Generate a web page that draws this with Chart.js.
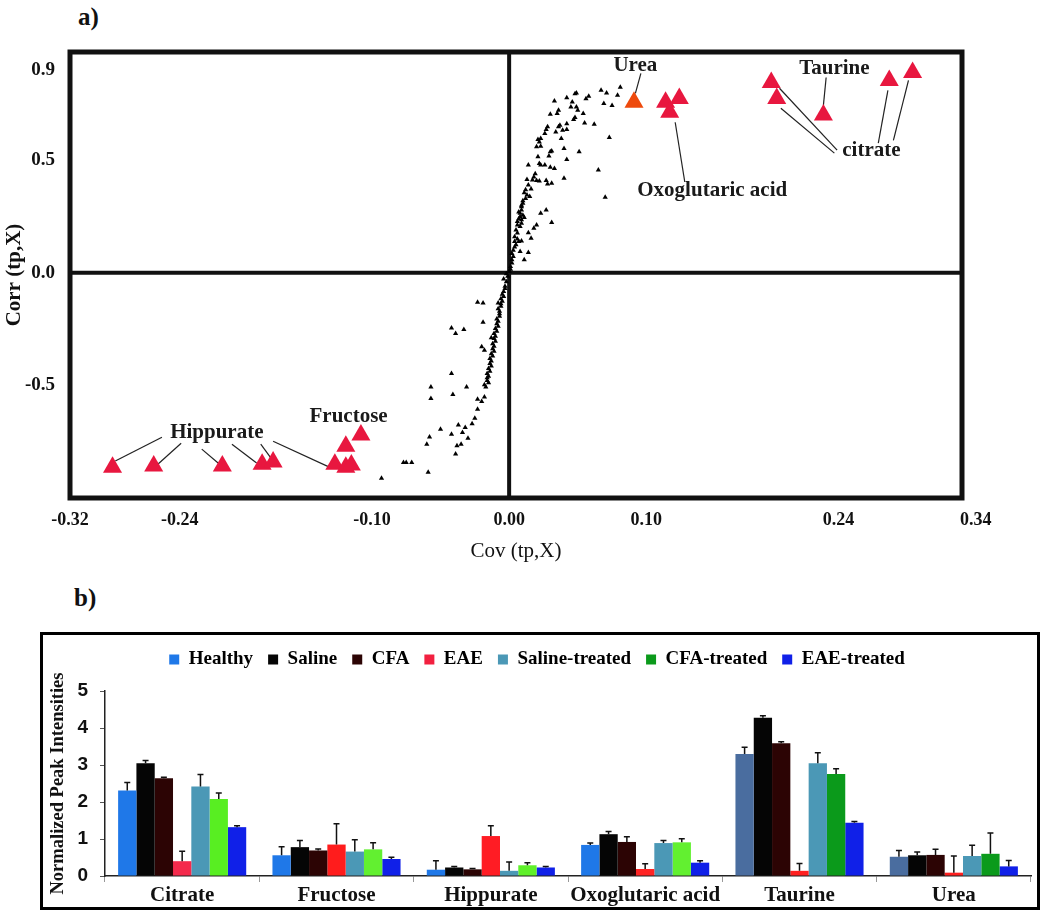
<!DOCTYPE html>
<html>
<head>
<meta charset="utf-8">
<title>S-plot and metabolite intensities</title>
<script src="https://cdn.jsdelivr.net/npm/chart.js@4.4.1/dist/chart.umd.min.js"></script>
<style>
body { margin: 0; background: #fff; width: 1050px; height: 920px; position: relative; overflow: hidden; }
.panel { position: absolute; font-family: 'Liberation Serif', serif; font-weight: bold; font-size: 25px; color: #111; }
#scatter { position: absolute; left: 0; top: 0; }
#barBox { position: absolute; left: 40px; top: 632px; width: 994px; height: 272px; border: 3px solid #000; }
#bars { display: block; }
</style>
</head>
<body>
<div class="panel" style="left:78px; top:3px">a)</div>
<div class="panel" style="left:74px; top:584px">b)</div>
<canvas id="scatter" width="1050" height="580"></canvas>
<div id="barBox"><canvas id="bars" width="994" height="272"></canvas></div>
<script>
document.addEventListener('DOMContentLoaded', init);

// ---------- panel a: S-plot ----------
const covTicks = [-0.32, -0.24, -0.10, 0.00, 0.10, 0.24, 0.34];
const corrTicks = [-0.5, 0.0, 0.5, 0.9];

// all other variables (small black triangles), [cov, corr]
const otherVars = [
    [0.081,0.824],[0.067,0.810],[0.071,0.798],[0.079,0.788],[0.049,0.798],[0.048,0.795],[0.042,0.777],[0.033,0.763],
    [0.058,0.783],[0.056,0.773],[0.069,0.751],[0.075,0.743],[0.046,0.758],[0.045,0.736],[0.049,0.736],[0.050,0.721],
    [0.036,0.721],[0.035,0.707],[0.030,0.704],[0.054,0.707],[0.048,0.689],[0.047,0.680],[0.042,0.662],[0.055,0.665],
    [0.062,0.659],[0.037,0.655],[0.036,0.648],[0.028,0.648],[0.027,0.636],[0.034,0.625],[0.039,0.633],[0.042,0.636],
    [0.026,0.618],[0.023,0.596],[0.021,0.591],[0.022,0.581],[0.038,0.596],[0.073,0.600],[0.020,0.559],[0.023,0.562],
    [0.031,0.541],[0.030,0.537],[0.040,0.552],[0.051,0.537],[0.021,0.515],[0.029,0.518],[0.042,0.503],[0.014,0.478],
    [0.022,0.485],[0.023,0.478],[0.026,0.478],[0.030,0.468],[0.033,0.463],[0.065,0.456],
    [0.013,0.414],[0.017,0.412],[0.020,0.409],[0.022,0.407],[0.027,0.409],[0.028,0.394],[0.031,0.397],[0.040,0.419],
    [0.070,0.335],[0.011,0.355],[0.013,0.345],[0.015,0.338],[0.010,0.308],[0.009,0.293],[0.009,0.279],[0.008,0.264],
    [0.008,0.249],[0.009,0.235],[0.006,0.227],[0.009,0.220],[0.008,0.205],[0.005,0.190],[0.006,0.176],[0.023,0.264],
    [0.027,0.279],[0.031,0.223],[0.020,0.212],[0.018,0.198],[0.014,0.178],[0.016,0.153],[0.004,0.139],[0.007,0.139],
    [0.009,0.141],[0.005,0.124],[0.004,0.114],[0.008,0.094],[0.014,0.090],[0.011,0.058],[0.003,0.072],[0.002,0.058],
    [0.002,0.043],[0.001,0.028],[0.010,0.320],[0.012,0.330],[0.009,0.300],[0.007,0.270],[0.010,0.255],[0.007,0.240],
    [0.011,0.245],[0.006,0.212],[0.004,0.160],[0.006,0.150],[0.003,0.100],[0.002,0.085],[0.001,0.015],[0.000,0.005],
    [0.012,0.368],[0.016,0.372],[0.014,0.390],[0.018,0.425],[0.019,0.440],
    [-0.004,-0.028],[-0.003,-0.060],[-0.004,-0.083],[-0.004,-0.105],[-0.005,-0.127],[-0.006,-0.149],[-0.007,-0.171],
    [-0.007,-0.193],[-0.008,-0.215],[-0.008,-0.237],[-0.009,-0.260],[-0.010,-0.282],[-0.010,-0.304],[-0.011,-0.326],
    [-0.011,-0.348],[-0.012,-0.370],[-0.013,-0.392],[-0.013,-0.414],[-0.014,-0.437],[-0.015,-0.459],
    [-0.002,-0.040],[-0.003,-0.070],[-0.005,-0.095],[-0.006,-0.115],[-0.006,-0.138],[-0.008,-0.160],[-0.007,-0.182],
    [-0.009,-0.205],[-0.009,-0.226],[-0.010,-0.248],[-0.011,-0.270],[-0.011,-0.292],[-0.012,-0.315],[-0.012,-0.337],
    [-0.013,-0.360],[-0.014,-0.381],[-0.014,-0.403],[-0.015,-0.425],[-0.016,-0.447],[-0.001,-0.015],[-0.002,-0.005],
    [-0.023,-0.131],[-0.019,-0.134],[-0.008,-0.134],[-0.019,-0.220],[-0.042,-0.245],[-0.039,-0.270],[-0.033,-0.252],
    [-0.013,-0.289],[-0.020,-0.329],[-0.018,-0.344],[-0.042,-0.447],
    [-0.016,-0.466],[-0.015,-0.488],[-0.017,-0.507],[-0.016,-0.478],[-0.018,-0.497],[-0.057,-0.507],[-0.057,-0.558],
    [-0.041,-0.540],[-0.031,-0.507],[-0.023,-0.562],[-0.020,-0.572],[-0.018,-0.552],[-0.023,-0.606],[-0.025,-0.646],
    [-0.027,-0.670],[-0.037,-0.676],[-0.032,-0.687],[-0.050,-0.695],[-0.042,-0.717],[-0.034,-0.709],[-0.058,-0.729],
    [-0.060,-0.761],[-0.030,-0.735],[-0.035,-0.761],[-0.038,-0.768],[-0.039,-0.805],[-0.077,-0.842],[-0.075,-0.842],
    [-0.071,-0.842],[-0.059,-0.886],[-0.093,-0.912]
];

// highlighted metabolites (large red triangles)
const markedVars = [
    [0.114,0.757],[0.124,0.774],[0.117,0.712],                 // oxoglutaric acid
    [0.191,0.845],[0.195,0.774],[0.277,0.854],[0.294,0.889],   // citrate
    [0.229,0.700],                                             // taurine
    [-0.289,-0.863],[-0.259,-0.858],[-0.209,-0.858],[-0.180,-0.850],
    [-0.172,-0.840],[-0.127,-0.850],[-0.119,-0.863],[-0.115,-0.854], // hippurate
    [-0.119,-0.770],[-0.108,-0.720]                            // fructose
];
const ureaVar = [[0.091,0.757]];

// annotations
const tagNames = ['Urea', 'Oxoglutaric acid', 'Taurine', 'citrate', 'Hippurate', 'Fructose'];
const tagCov = [0.092, 0.148, 0.237, 0.264, -0.213, -0.117];
const tagCorr = [0.920, 0.367, 0.907, 0.544, -0.708, -0.637];
const leaderLines = [
    [0.096,0.885,0.092,0.796],
    [0.121,0.668,0.128,0.403],
    [0.231,0.867,0.229,0.743],
    [0.239,0.544,0.197,0.819],
    [0.237,0.531,0.198,0.730],
    [0.269,0.575,0.276,0.810],
    [0.280,0.588,0.291,0.854],
    [-0.253,-0.730,-0.287,-0.836],
    [-0.239,-0.757,-0.256,-0.850],
    [-0.224,-0.783,-0.211,-0.850],
    [-0.202,-0.761,-0.184,-0.845],
    [-0.181,-0.761,-0.173,-0.827],
    [-0.172,-0.748,-0.131,-0.863]
];

// ---------- panel b: bar chart ----------
const metabolites = ['Citrate', 'Fructose', 'Hippurate', 'Oxoglutaric acid', 'Taurine', 'Urea'];
const groups = ['Healthy', 'Saline', 'CFA', 'EAE', 'Saline-treated', 'CFA-treated', 'EAE-treated'];

const healthyMean = [2.31, 0.56, 0.17, 0.84, 3.30, 0.52];
const salineMean = [3.05, 0.78, 0.23, 1.13, 4.28, 0.56];
const cfaMean = [2.64, 0.69, 0.18, 0.92, 3.59, 0.57];
const eaeMean = [0.40, 0.85, 1.08, 0.19, 0.14, 0.09];
const salineTrMean = [2.42, 0.66, 0.14, 0.89, 3.05, 0.54];
const cfaTrMean = [2.08, 0.72, 0.29, 0.91, 2.76, 0.60];
const eaeTrMean = [1.32, 0.46, 0.23, 0.36, 1.44, 0.26];

const healthyErr = [0.22, 0.23, 0.24, 0.05, 0.18, 0.17];
const salineErr = [0.07, 0.18, 0.03, 0.07, 0.05, 0.09];
const cfaErr = [0.03, 0.04, 0.02, 0.14, 0.04, 0.15];
const eaeErr = [0.27, 0.56, 0.28, 0.14, 0.20, 0.45];
const salineTrErr = [0.32, 0.32, 0.24, 0.07, 0.28, 0.29];
const cfaTrErr = [0.16, 0.18, 0.07, 0.10, 0.14, 0.56];
const eaeTrErr = [0.04, 0.05, 0.03, 0.05, 0.03, 0.16];

const barColours = [
    ['#1f78e8', '#1f78e8', '#1f78e8', '#1f78e8', '#4a6d9f', '#4a6d9f'],
    '#050505',
    '#2c0404',
    ['#f42a4c', '#ff1c1c', '#ff1c24', '#ff2424', '#ff2020', '#ff2020'],
    '#4b98b6',
    ['#58ee22', '#62f030', '#5ff02a', '#62f030', '#0b9a1b', '#0b9a1b'],
    '#1020e8'
];
const legendColours = ['#1f78e8', '#050505', '#2c0404', '#f22040', '#4b98b6', '#0b9a1b', '#1020e8'];

const serif = 'Liberation Serif';
const sans = 'Liberation Sans';

const sPlotDecor = {
    id: 'sPlotDecor',
    beforeDatasetsDraw(chart)
    {
        const {ctx, chartArea: a, scales: {x, y}} = chart;
        ctx.save();
        // leader lines
        ctx.strokeStyle = '#222';
        ctx.lineWidth = 1.2;
        leaderLines.forEach(l => {
            ctx.beginPath();
            ctx.moveTo(x.getPixelForValue(l[0]), y.getPixelForValue(l[1]));
            ctx.lineTo(x.getPixelForValue(l[2]), y.getPixelForValue(l[3]));
            ctx.stroke();
        });
        // zero lines and frame
        ctx.strokeStyle = '#111';
        ctx.lineWidth = 4;
        const x0 = x.getPixelForValue(0), y0 = y.getPixelForValue(0);
        ctx.beginPath();
        ctx.moveTo(x0, a.top);
        ctx.lineTo(x0, a.bottom);
        ctx.moveTo(a.left, y0);
        ctx.lineTo(a.right, y0);
        ctx.stroke();
        ctx.lineWidth = 5;
        ctx.strokeRect(a.left, a.top, a.right - a.left, a.bottom - a.top);
        ctx.restore();
    },
    afterDatasetsDraw(chart)
    {
        const {ctx, scales: {x, y}} = chart;
        ctx.save();
        ctx.fillStyle = '#1a1a1a';
        ctx.font = 'bold 21px "' + serif + '"';
        ctx.textAlign = 'center';
        ctx.textBaseline = 'middle';
        tagNames.forEach((name, i) => {
            ctx.fillText(name, x.getPixelForValue(tagCov[i]), y.getPixelForValue(tagCorr[i]));
        });
        ctx.restore();
    }
};

const errorBars = {
    id: 'errorBars',
    afterDatasetsDraw(chart)
    {
        const {ctx, scales: {y}} = chart;
        ctx.save();
        ctx.strokeStyle = '#111';
        ctx.lineWidth = 1.5;
        chart.data.datasets.forEach((ds, i) => {
            chart.getDatasetMeta(i).data.forEach((bar, j) => {
                const top = y.getPixelForValue(ds.data[j] + ds.errors[j]);
                ctx.beginPath();
                ctx.moveTo(bar.x, bar.y);
                ctx.lineTo(bar.x, top);
                ctx.moveTo(bar.x - 3, top);
                ctx.lineTo(bar.x + 3, top);
                ctx.stroke();
            });
        });
        ctx.restore();
    }
};

const legendGap = {
    id: 'legendGap',
    beforeInit(chart)
    {
        const fit = chart.legend.fit;
        chart.legend.fit = function () {
            fit.call(this);
            this.height += 12;
        };
    }
};

function toPoints(list)
{
    return list.map(p => ({x: p[0], y: p[1]}));
}

function init()
{
    createSPlot();
    createBars();
}

function createSPlot()
{
    new Chart(document.getElementById('scatter').getContext('2d'),
    {
        type: 'scatter',
        data: {
            datasets: [
                {
                    label: 'Variables',
                    data: toPoints(otherVars),
                    pointStyle: 'triangle',
                    radius: 3,
                    backgroundColor: '#000',
                    borderWidth: 0
                },
                {
                    label: 'Metabolites',
                    data: toPoints(markedVars),
                    pointStyle: 'triangle',
                    radius: 11,
                    backgroundColor: '#e8173f',
                    borderWidth: 0
                },
                {
                    label: 'Urea',
                    data: toPoints(ureaVar),
                    pointStyle: 'triangle',
                    radius: 11,
                    backgroundColor: '#ee4a0c',
                    borderWidth: 0
                }
            ]
        },
        options: {
            responsive: false,
            animation: false,
            layout: {padding: {left: 0, top: 52, right: 88, bottom: 0}},
            plugins: {
                legend: {display: false},
                tooltip: {enabled: false}
            },
            scales: {
                x: {
                    type: 'linear',
                    min: -0.32,
                    max: 0.33,
                    afterBuildTicks: s => { s.ticks = covTicks.map(v => ({value: v})); },
                    afterFit: s => { s.height = 82; },
                    grid: {display: false},
                    border: {display: false},
                    ticks: {
                        callback: v => v.toFixed(2),
                        font: {family: serif, weight: 'bold', size: 18},
                        color: '#111',
                        padding: 4,
                        maxRotation: 0,
                        autoSkip: false
                    },
                    title: {
                        display: true,
                        text: 'Cov (tp,X)',
                        font: {family: serif, size: 21},
                        color: '#111',
                        padding: {top: 0, bottom: 16}
                    }
                },
                y: {
                    type: 'linear',
                    min: -1.0,
                    max: 0.98,
                    afterBuildTicks: s => { s.ticks = corrTicks.map(v => ({value: v})); },
                    afterFit: s => { s.width = 70; },
                    grid: {display: false},
                    border: {display: false},
                    ticks: {
                        callback: v => v.toFixed(1),
                        font: {family: serif, weight: 'bold', size: 19},
                        color: '#111',
                        padding: 7
                    },
                    title: {
                        display: true,
                        text: 'Corr (tp,X)',
                        font: {family: serif, weight: 'bold', size: 21},
                        color: '#111',
                        padding: {top: 2, bottom: 0}
                    }
                }
            }
        },
        plugins: [sPlotDecor]
    });
}

function createBars()
{
    const means = [healthyMean, salineMean, cfaMean, eaeMean, salineTrMean, cfaTrMean, eaeTrMean];
    const errs = [healthyErr, salineErr, cfaErr, eaeErr, salineTrErr, cfaTrErr, eaeTrErr];

    new Chart(document.getElementById('bars').getContext('2d'),
    {
        type: 'bar',
        data: {
            labels: metabolites,
            datasets: groups.map((g, i) => ({
                label: g,
                data: means[i],
                errors: errs[i],
                backgroundColor: barColours[i],
                borderWidth: 0,
                categoryPercentage: 0.83,
                barPercentage: 1.0
            }))
        },
        options: {
            responsive: false,
            animation: false,
            layout: {padding: {left: 0, right: 6, top: 0, bottom: 0}},
            plugins: {
                legend: {
                    position: 'top',
                    labels: {
                        boxWidth: 10,
                        boxHeight: 10,
                        padding: 15,
                        color: '#111',
                        font: {family: serif, weight: 'bold', size: 19},
                        generateLabels: chart => chart.data.datasets.map((ds, i) => ({
                            text: ds.label,
                            fillStyle: legendColours[i],
                            strokeStyle: legendColours[i],
                            lineWidth: 0,
                            hidden: false,
                            datasetIndex: i
                        }))
                    }
                },
                tooltip: {enabled: false}
            },
            scales: {
                x: {
                    grid: {drawOnChartArea: false, tickLength: 6, color: '#999'},
                    border: {color: '#222', width: 1.5},
                    ticks: {
                        font: {family: serif, weight: 'bold', size: 21},
                        color: '#111',
                        padding: 1,
                        maxRotation: 0
                    },
                    afterFit: s => { s.height = 31; }
                },
                y: {
                    min: 0,
                    max: 5,
                    ticks: {
                        stepSize: 1,
                        font: {family: sans, weight: 'bold', size: 19},
                        color: '#111',
                        padding: 12
                    },
                    grid: {drawOnChartArea: false, tickLength: 5, color: '#555'},
                    border: {color: '#222', width: 1.5},
                    title: {
                        display: true,
                        text: 'Normalized Peak Intensities',
                        font: {family: serif, weight: 'bold', size: 18.5},
                        color: '#111',
                        padding: {top: 4, bottom: 0}
                    },
                    afterFit: s => { s.width = 62; }
                }
            }
        },
        plugins: [legendGap, errorBars]
    });
}
</script>
</body>
</html>
